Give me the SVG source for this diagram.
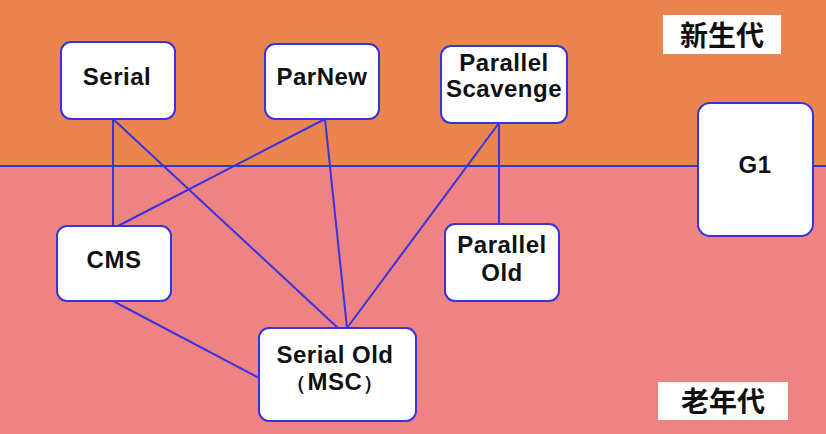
<svg xmlns="http://www.w3.org/2000/svg" width="826" height="434" viewBox="0 0 826 434">
<style>
.box{fill:#fff;stroke:#3a32e0;stroke-width:2}
.lbl{font-family:"Liberation Sans",Arial,sans-serif;font-weight:bold;font-size:24px;letter-spacing:0.5px;fill:#111;text-anchor:middle}
.cjk{font-family:"Noto Sans CJK SC",sans-serif;font-weight:bold;font-size:28px;fill:#111;text-anchor:middle}
.conn line{stroke:#3a32e0;stroke-width:2}
</style>
<rect x="0" y="0" width="826" height="166" fill="#ec8450"/>
<rect x="0" y="166" width="826" height="268" fill="#ee8383"/>
<line x1="0" y1="166" x2="826" y2="166" stroke="#3a32e0" stroke-width="2"/>
<g class="conn" id="connectors">
<line x1="113" y1="119" x2="113" y2="226"/>
<line x1="113" y1="119" x2="338" y2="328"/>
<line x1="325" y1="119" x2="118" y2="226"/>
<line x1="325" y1="119" x2="347" y2="328"/>
<line x1="499" y1="123" x2="499" y2="224"/>
<line x1="499" y1="123" x2="347" y2="328"/>
<line x1="113" y1="301" x2="259" y2="378"/>
</g>
<g id="serial"><rect class="box" x="61" y="42" width="114" height="77" rx="10"/><text class="lbl" x="117" y="85">Serial</text></g>
<g id="parnew"><rect class="box" x="265" y="44" width="114" height="75" rx="10"/><text class="lbl" x="322" y="85">ParNew</text></g>
<g id="parallel-scavenge"><rect class="box" x="441" y="46" width="126" height="77" rx="10"/><text class="lbl" x="504" y="71">Parallel</text><text class="lbl" x="504" y="97">Scavenge</text></g>
<g id="g1"><rect class="box" x="698" y="103" width="115" height="133" rx="12"/><text class="lbl" x="755" y="173">G1</text></g>
<g id="cms"><rect class="box" x="57" y="226" width="114" height="75" rx="10"/><text class="lbl" x="114" y="268">CMS</text></g>
<g id="parallel-old"><rect class="box" x="445" y="224" width="114" height="77" rx="10"/><text class="lbl" x="502" y="253">Parallel</text><text class="lbl" x="502" y="281">Old</text></g>
<g id="serial-old"><rect class="box" x="259" y="328" width="157" height="93" rx="10"/><text class="lbl" x="335" y="390"><tspan font-size="20px">（</tspan><tspan dx="1">MSC</tspan><tspan dx="1" font-size="20px">）</tspan></text><text class="lbl" x="335" y="363">Serial Old</text></g>
<g id="young-label"><rect x="663" y="15" width="118" height="39" fill="#fff"/><text class="cjk" x="722" y="46">新生代</text></g>
<g id="old-label"><rect x="658" y="382" width="130" height="38" fill="#fff"/><text class="cjk" x="723" y="412">老年代</text></g>
</svg>
